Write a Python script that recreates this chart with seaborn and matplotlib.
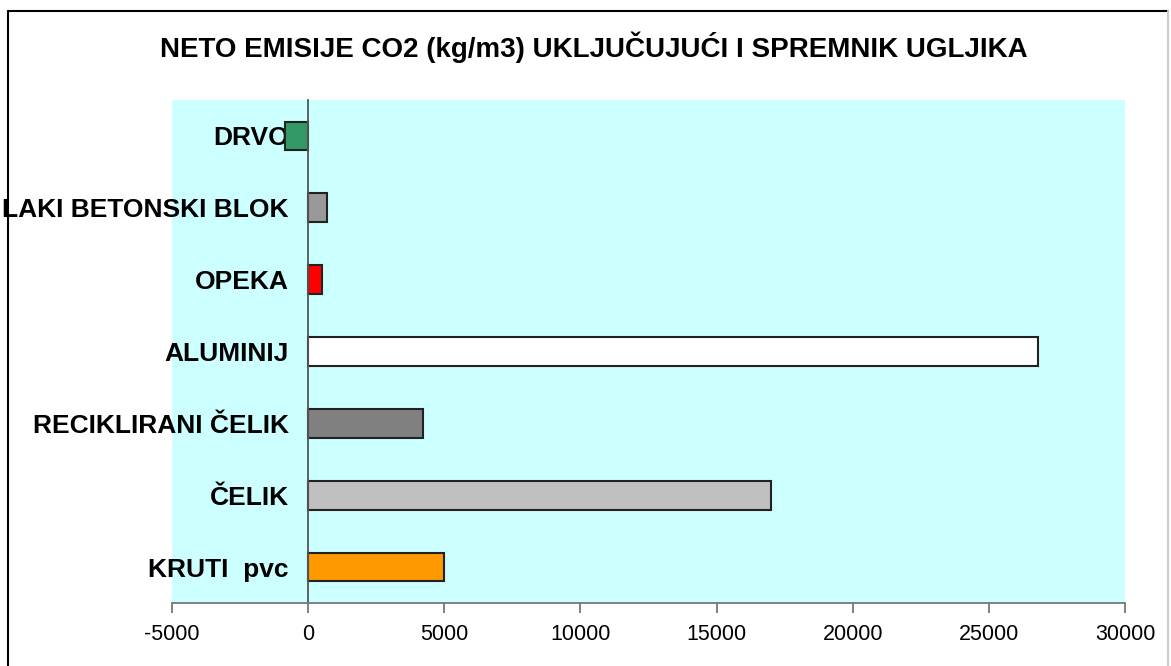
import numpy as np
import pandas as pd
import seaborn as sns
import matplotlib.pyplot as plt
from matplotlib.lines import Line2D

# Data
materials = ['DRVO', 'LAKI BETONSKI BLOK', 'OPEKA', 'ALUMINIJ',
             'RECIKLIRANI ČELIK', 'ČELIK', 'KRUTI  pvc']
emissions = [-850, 700, 500, 26800, 4200, 17000, 5000]
bar_colors = ['#339966', '#999999', '#FF0000', '#FFFFFF',
              '#808080', '#C0C0C0', '#FF9900']
x_ticks = [-5000, 0, 5000, 10000, 15000, 20000, 25000, 30000]

df = pd.DataFrame({'material': materials, 'emission': emissions})

sns.set_style('white')
plt.rcParams['font.family'] = ['Liberation Sans', 'DejaVu Sans']
plt.rcParams['text.color'] = 'black'
plt.rcParams['xtick.color'] = 'black'
plt.rcParams['ytick.color'] = 'black'

fig = plt.figure(figsize=(11.71, 6.66), dpi=100)
ax = fig.add_axes([172 / 1171, 1 - 603 / 666, (1125 - 172) / 1171, (603 - 100) / 666])
ax.set_facecolor('#CCFFFF')

sns.barplot(data=df, x='emission', y='material', hue='material',
            palette=bar_colors, legend=False, orient='h', width=0.4,
            saturation=1, edgecolor='#222222', linewidth=1.5, ax=ax)

ax.set_xlim(-5000, 30000)
ax.set_ylim(len(materials) - 0.5, -0.5)
ax.set_xticks(x_ticks)
ax.set_xticklabels([str(t) for t in x_ticks], fontsize=15.5)
ax.set_xlabel('')
ax.set_ylabel('')

# spines: category axis sits at x = 0
for s in ['top', 'right']:
    ax.spines[s].set_visible(False)
ax.spines['left'].set_position(('data', 0))
ax.spines['left'].set_color('#555555')
ax.spines['bottom'].set_color('#777777')
ax.spines['left'].set_linewidth(1.3)
ax.spines['bottom'].set_linewidth(1.3)

ax.tick_params(axis='y', which='major', length=0, pad=14,
               labelsize=19)
for lbl in ax.get_yticklabels():
    lbl.set_fontweight('bold')
ax.set_yticks(np.arange(len(materials) + 1) - 0.5, minor=True)
ax.tick_params(axis='y', which='minor', length=7, direction='out',
               color='#555555', width=1.3)
ax.tick_params(axis='x', which='major', length=7, direction='out',
               color='#777777', width=1.3, pad=8, bottom=True)

fig.text(0.507, 0.929, 'NETO EMISIJE CO2 (kg/m3) UKLJUČUJUĆI I SPREMNIK UGLJIKA',
         ha='center', va='center', fontsize=20, fontweight='bold')

# slide frame
fig.add_artist(Line2D([8 / 1171, 8 / 1171], [0, 1 - 11 / 666],
                      transform=fig.transFigure, color='black', lw=1.5))
fig.add_artist(Line2D([8 / 1171, 1168 / 1171], [1 - 11 / 666, 1 - 11 / 666],
                      transform=fig.transFigure, color='black', lw=1.5))
fig.add_artist(Line2D([1168 / 1171, 1168 / 1171], [0, 1 - 11 / 666],
                      transform=fig.transFigure, color='#CCCCCC', lw=1.5))

fig.savefig('out.png', dpi=100)
plt.close()
